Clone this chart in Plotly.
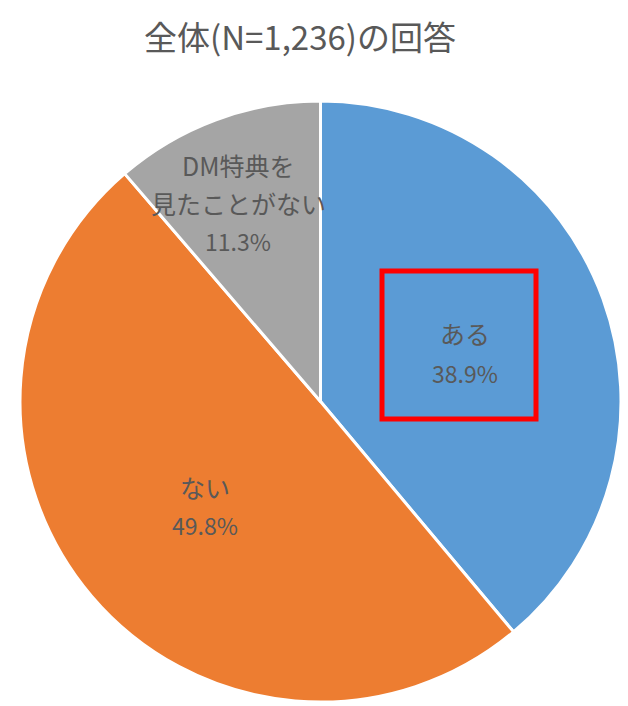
import plotly.graph_objects as go

# The page body has an 8px margin, so the figure is drawn 8px smaller and
# all pixel positions are given relative to the window, then shifted by OFF.
OFF = 8
WIN_W, WIN_H = 628, 706
W, H = WIN_W - OFF, WIN_H - OFF

labels = ["ある", "ない", "DM特典を<br>見たことがない"]
values = [38.9, 49.8, 11.3]
colors = ["#5B9BD5", "#ED7D31", "#A5A5A5"]
title = "全体(N=1,236)の回答"

FONT = "Noto Sans CJK JP, Noto Sans, sans-serif"
TXT = "#595959"


def px(x, y):
    return (x - OFF) / W, 1 - (y - OFF) / H


dx0, dy0 = px(20, 702)
dx1, dy1 = px(621, 101)
fig = go.Figure(go.Pie(
    labels=labels, values=values, sort=False, direction="clockwise", rotation=0,
    marker=dict(colors=colors, line=dict(color="white", width=3)),
    textinfo="none", hoverinfo="label+percent", showlegend=False,
    domain=dict(x=[dx0, dx1], y=[dy0, dy1]),
))

# label positions: x centre, y centres of the name lines, y centre of the value
label_pos = [(465, [333], 373), (205, [487], 525), (238, [165, 203], 241)]
anns = []
for lab, val, (x, ylines, yv) in zip(labels, values, label_pos):
    for line, yl in zip(lab.split("<br>"), ylines):
        ax, ay = px(x, yl)
        anns.append(dict(x=ax, y=ay, xref="paper", yref="paper", text=line, showarrow=False,
                         font=dict(family=FONT, size=25, color=TXT),
                         xanchor="center", yanchor="middle"))
    bx, by = px(x, yv)
    anns.append(dict(x=bx, y=by, xref="paper", yref="paper", text=f"{val:.1f}%", showarrow=False,
                     font=dict(family=FONT, size=23, color=TXT),
                     xanchor="center", yanchor="middle"))

tx, ty = px(300, 36)
anns.append(dict(x=tx, y=ty, xref="paper", yref="paper", text=title, showarrow=False,
                 font=dict(family=FONT, size=33, color=TXT), xanchor="center", yanchor="middle"))

rx0, ry0 = px(382, 271)
rx1, ry1 = px(536, 419)
fig.update_layout(
    width=W, height=H, margin=dict(l=0, r=0, t=0, b=0),
    paper_bgcolor="white", plot_bgcolor="white",
    annotations=anns,
    shapes=[dict(type="rect", xref="paper", yref="paper", x0=rx0, y0=ry1, x1=rx1, y1=ry0,
                 line=dict(color="#FF0000", width=5))],
)
fig.write_html("out.html")
